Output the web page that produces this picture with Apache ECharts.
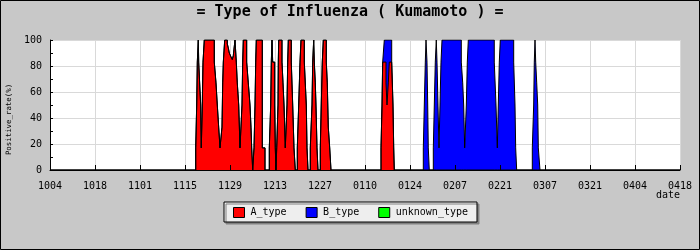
<!DOCTYPE html>
<html>
<head>
<meta charset="utf-8">
<script src="https://cdn.jsdelivr.net/npm/echarts@6/dist/echarts.min.js"></script>
<style>
html,body{margin:0;padding:0;background:#c8c8c8;}
#chart{width:700px;height:250px;}
</style>
</head>
<body>
<div id="chart"></div>
<script>
// x: days since 1004 (breakpoints of the step outline), values in %
const tickLabels = ['1004','1018','1101','1115','1129','1213','1227','0110','0124','0207','0221','0307','0321','0404','0418'];

const days = [
  0,
  45.33,45.64,45.83,46.14,46.26,46.88,47.07,
  47.38,47.60,48.00,51.11,51.64,52.05,52.48,52.89,
  53.51,53.73,53.92,54.35,55.16,55.47,55.78,56.31,56.71,57.03,57.24,57.56,57.96,58.27,58.71,59.11,
  59.73,59.95,60.14,61.19,61.69,62.22,62.53,62.75,63.06,
  63.47,63.78,64.00,64.18,66.05,66.89,
  68.23,68.66,68.85,69.07,69.28,69.91,70.09,70.31,
  70.53,70.93,71.03,71.15,72.18,72.49,72.80,73.02,73.20,
  73.73,73.95,74.14,75.07,75.51,75.91,76.31,
  76.94,77.37,77.78,78.09,79.12,79.74,79.96,80.27,
  80.98,81.51,81.73,82.04,82.23,82.54,82.75,83.07,83.38,
  84.09,84.40,84.71,85.03,85.96,86.27,86.58,87.02,87.42,
  102.98,103.29,103.50,104.00,104.53,104.84,105.25,105.56,106.31,106.71,106.93,107.11,
  116.14,116.45,116.76,116.98,117.29,117.51,117.69,118.00,
  119.25,119.56,119.87,120.18,120.40,120.71,121.02,
  121.33,121.64,121.96,127.96,128.40,128.70,129.01,
  129.52,129.83,130.14,138.22,138.76,139.16,
  139.47,139.78,140.09,144.26,144.67,144.88,145.19,
  150.05,150.48,150.67,150.89,151.11,151.42,151.73,151.92,152.44,
  196
];

const aType = [
  0,
  17,50,83,100,83,50,17,
  50,83,100,83,67,50,33,17,
  33,67,83,100,97,94,90,87,85,88,93,100,83,67,50,17,
  50,83,100,83,67,50,33,17,0,
  17,50,83,100,17,0,
  17,50,83,100,83,50,17,0,
  17,50,83,100,83,67,50,33,17,
  50,83,100,83,50,17,0,
  17,50,83,100,83,50,17,0,
  17,50,83,100,83,67,50,17,0,
  17,50,83,100,83,67,33,17,0,
  17,50,83,83,67,50,67,83,83,50,17,0,
  0,0,0,0,0,0,0,0,
  0,0,0,0,0,0,0,
  0,0,0,0,0,0,0,
  0,0,0,0,0,0,
  0,0,0,0,0,0,0,
  0,0,0,0,0,0,0,0,0,
  0
];

const bType = [
  0,
  0,0,0,0,0,0,0,
  0,0,0,0,0,0,0,0,
  0,0,0,0,0,0,0,0,0,0,0,0,0,0,0,0,
  0,0,0,0,0,0,0,0,0,
  0,0,0,0,0,0,
  0,0,0,0,0,0,0,0,
  0,0,0,0,0,0,0,0,0,
  0,0,0,0,0,0,0,
  0,0,0,0,0,0,0,0,
  0,0,0,0,0,0,0,0,0,
  0,0,0,0,0,0,0,0,0,
  0,0,0,17,33,50,33,17,0,0,0,0,
  17,50,83,100,83,50,17,0,
  17,50,83,100,83,50,17,
  50,83,100,83,67,50,17,
  50,83,100,83,50,17,
  50,83,100,83,50,17,0,
  17,50,83,100,83,67,50,17,0,
  0
];

const unknownType = []; // no unknown-type reports visible

const MONO = '"DejaVu Sans Mono", monospace';
const chart = echarts.init(document.getElementById('chart'), null, {renderer:'canvas'});

// stacked drawing: B is drawn on top of A (its area spans A .. A+B, A is painted over the lower part)
function mkSeries(name, points, color) {
  return {
    name: name, type: 'line', step: 'end',
    xAxisIndex: 1,
    symbol: 'none', showSymbol: false,
    data: points,
    lineStyle: {color: '#000', width: 1},
    areaStyle: {color: color, opacity: 1},
    itemStyle: {color: color},
    emphasis: {disabled: true},
    silent: true
  };
}
const aPoints = days.map((d, i) => [d, aType[i]]);
const abPoints = days.map((d, i) => [d, aType[i] + bType[i]]);
const abuPoints = unknownType.map((v, i) => [days[i], aType[i] + bType[i] + v]);

chart.setOption({
  animation: false,
  backgroundColor: '#c8c8c8',
  title: {
    text: '= Type of Influenza ( Kumamoto ) =',
    left: 'center', top: 4, padding: 0,
    textStyle: {fontFamily: MONO, fontWeight: 'bold', fontSize: 15, lineHeight: 17, color: '#000'}
  },
  legend: {
    left: 224, top: 202,
    padding: [5, 9, 4, 9],
    icon: 'rect', itemWidth: 11, itemHeight: 10, itemGap: 19,
    backgroundColor: '#eeeeee', borderColor: '#000', borderWidth: 1,
    shadowColor: '#808080', shadowBlur: 0, shadowOffsetX: 2, shadowOffsetY: 2,
    itemStyle: {borderColor: '#000', borderWidth: 1},
    textStyle: {fontFamily: MONO, fontSize: 10, color: '#000', padding: [0, 0, 0, 1]},
    data: ['A_type', 'B_type', 'unknown_type'],
    selectedMode: false
  },
  grid: {left: 50, right: 20, top: 40, bottom: 80, show: true, backgroundColor: '#fff', borderWidth: 0, containLabel: false, outerBoundsMode: 'none'},
  xAxis: [
    {
      type: 'value', min: 0, max: 196, interval: 14, position: 'top', z: 0,
      axisLine: {show: false}, axisTick: {show: false}, axisLabel: {show: false},
      splitLine: {show: true, lineStyle: {color: '#d9d9d9', width: 1}}
    },
    {
      type: 'value', min: 0, max: 196, interval: 14, position: 'bottom', z: 5,
      axisLine: {lineStyle: {color: '#000', width: 1}},
      axisTick: {inside: true, length: 5, lineStyle: {color: '#000'}},
      axisLabel: {fontFamily: MONO, fontSize: 10, color: '#000', margin: 11,
        formatter: v => tickLabels[Math.round(v / 14)] || ''},
      splitLine: {show: false}
    }
  ],
  yAxis: {
    type: 'value', min: 0, max: 100, interval: 20,
    name: 'Positive_rate(%)', nameLocation: 'middle', nameRotate: 90, nameGap: 27,
    nameTextStyle: {fontFamily: MONO, fontSize: 7.4, color: '#000', padding: [0, 29, 0, 0]},
    axisLine: {show: true, lineStyle: {color: '#000', width: 1}},
    axisTick: {inside: true, length: 3, lineStyle: {color: '#000'}},
    minorTick: {show: true, splitNumber: 2, length: 3, lineStyle: {color: '#000'}},
    axisLabel: {fontFamily: MONO, fontSize: 10, color: '#000', margin: 8},
    splitLine: {show: true, lineStyle: {color: '#d9d9d9', width: 1}}
  },
  series: [
    mkSeries('unknown_type', abuPoints, '#00ff00'),
    mkSeries('B_type', abPoints, '#0000ff'),
    mkSeries('A_type', aPoints, '#ff0000')
  ],
  graphic: [
    {
      type: 'text', right: 20, top: 190, silent: true,
      style: {text: 'date', font: '10px "DejaVu Sans Mono"', fill: '#000'}
    },
    {
      type: 'rect', z: 100, silent: true,
      shape: {x: 0.5, y: 0.5, width: 699, height: 249},
      style: {fill: 'none', stroke: '#000', lineWidth: 1}
    }
  ]
});
</script>
</body>
</html>
